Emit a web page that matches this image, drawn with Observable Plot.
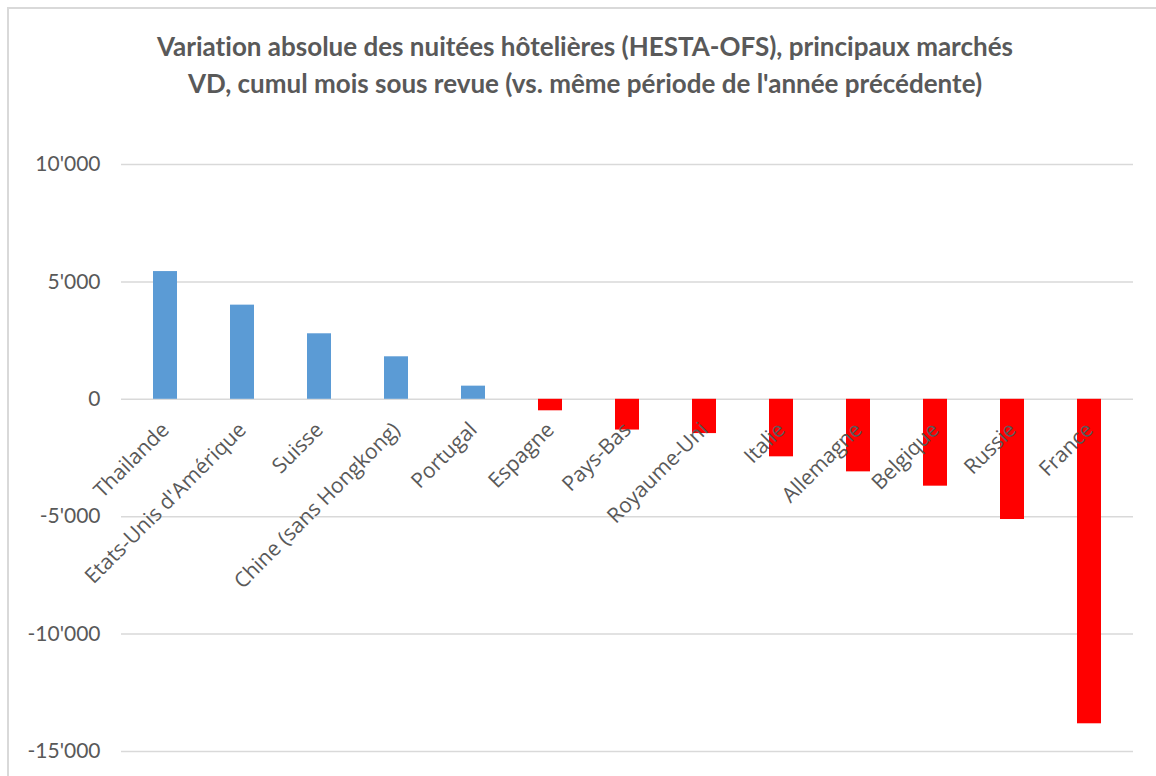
<!DOCTYPE html>
<html>
<head>
<meta charset="utf-8">
<script src="https://cdn.jsdelivr.net/npm/d3@7"></script>
<script src="https://cdn.jsdelivr.net/npm/@observablehq/plot@0.6"></script>
<style>
  html, body { margin: 0; padding: 0; background: #fff; }
  body { width: 1156px; height: 776px; position: relative; overflow: hidden; }
  #frame { position: absolute; left: 7px; top: 7px; width: 1200px; height: 800px;
           border-left: 2px solid #d9d9d9; border-top: 2px solid #d9d9d9; }
  #title { position: absolute; left: 0; top: 28px; width: 1170px; text-align: center;
           font-family: Lato, "Liberation Sans", sans-serif; font-weight: bold; font-size: 26px;
           color: #595959; line-height: 37px; font-variant-ligatures: none; }
  #chart { position: absolute; left: 0; top: 110px; }
  #chart svg text { font-variant-ligatures: none; }
</style>
</head>
<body>
<div id="frame"></div>
<div id="title">Variation absolue des nuitées hôtelières (HESTA-OFS), principaux marchés<br>VD, cumul mois sous revue (vs. même période de l'année précédente)</div>
<div id="chart"></div>
<script>
const countries = ["Thailande", "Etats-Unis d'Amérique", "Suisse", "Chine (sans Hongkong)", "Portugal",
  "Espagne", "Pays-Bas", "Royaume-Uni", "Italie", "Allemagne", "Belgique", "Russie", "France"];
const values = [5440, 4010, 2790, 1810, 560, -490, -1310, -1460, -2450, -3090, -3700, -5120, -13820];
const yTicks = [10000, 5000, 0, -5000, -10000, -15000];

const data = countries.map((c, i) => ({country: c, value: values[i]}));
const fmt = d3.formatLocale({decimal: ".", thousands: "'", grouping: [3], currency: ["", ""], minus: "-"}).format(",d");

const chart = Plot.plot({
  width: 1156,
  height: 666,
  marginTop: 54,
  marginBottom: 25,
  marginLeft: 121,
  marginRight: 23,
  style: {fontFamily: "Lato, sans-serif", background: "transparent", color: "#595959"},
  x: {domain: countries, paddingInner: 0.692, paddingOuter: 0.346, axis: null},
  y: {domain: [-15000, 10000], ticks: yTicks, tickFormat: fmt},
  marks: [
    Plot.gridY(yTicks, {stroke: "#d9d9d9", strokeOpacity: 1, strokeWidth: 1.5}),
    Plot.axisY(yTicks, {tickSize: 0, tickPadding: 21, tickFormat: fmt, fontSize: 21, fill: "#595959", label: null}),
    Plot.barY(data, {x: "country", y: "value", fill: d => d.value >= 0 ? "#5b9bd5" : "#ff0000"}),
    Plot.text(data, {x: "country", y: () => 0, text: "country", rotate: -45, textAnchor: "end",
      dx: 0, dy: 27, fontSize: 21, fill: "#595959", fontFamily: "'Open Sans', sans-serif"})
  ]
});
document.getElementById("chart").appendChild(chart);
</script>
</body>
</html>
